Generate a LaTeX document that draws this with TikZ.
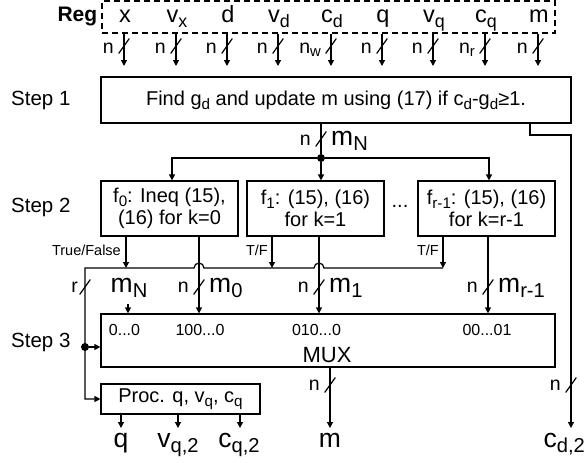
\documentclass[tikz,border=0pt]{standalone}
\usepackage{fontspec}
\setmainfont{Liberation Sans}
\usetikzlibrary{arrows.meta,positioning,calc}
\tikzset{
  wire/.style={line width=1.2pt, line cap=rect},
  arr/.style={line width=1.2pt, -{Triangle[length=6pt,width=6pt]}},
  box/.style={draw, line width=1.2pt, inner sep=0pt, align=center, font=\fontsize{20}{22.5}\selectfont},
  steplab/.style={anchor=west, inner sep=0pt, font=\fontsize{20.5}{22}\selectfont},
  reglab/.style={anchor=base, inner sep=0pt, font=\fontsize{23.5}{24}\selectfont},
  siglab/.style={anchor=base, inner sep=0pt, font=\fontsize{26.5}{27}\selectfont},
  wlab/.style={anchor=base east, inner sep=0pt, font=\fontsize{19.5}{20}\selectfont},
  tflab/.style={anchor=base east, inner sep=0pt, font=\fontsize{14.5}{15}\selectfont},
  code/.style={anchor=base, inner sep=0pt, font=\fontsize{16}{16}\selectfont},
  dot/.style={circle, fill, inner sep=0pt, minimum size=8pt},
}
% subscript as the figure sets it
\newcommand{\sbs}[1]{\raisebox{-0.2em}{\scalebox{0.76}{#1}}}
% bus-width mark on a wire
\newcommand{\wslash}[1]{\draw[wire] ($(#1)+(-5,7)$) -- ($(#1)+(5,-7)$);}

\begin{document}
\begin{tikzpicture}[x=1pt, y=-1pt]
\useasboundingbox (0,0) rectangle (587,463);

% register
\node[draw, dashed, dash pattern=on 6pt off 4pt, line width=1.2pt, inner sep=0pt,
      minimum width=453pt, minimum height=32pt] (reg) at (328.5,17) {};
\node[anchor=east, inner sep=4pt, font=\bfseries\fontsize{21}{21}\selectfont] (reglbl) at (reg.west) {Reg};
\foreach \i/\px/\s/\w in {1/124/x/n, 2/176/{v\sbs{x}}/n, 3/227/d/n, 4/278/{v\sbs{d}}/n,
    5/331/{c\sbs{d}}/{n\sbs{w}}, 6/382/q/n, 7/433/{v\sbs{q}}/n,
    8/485/{c\sbs{q}}/{n\sbs{r}}, 9/538/m/n}{
  \node[reglab] (l\i) at (\px+1,23) {\s};
  \coordinate (r\i) at (\px,66);
  \draw[arr] (r\i |- reg.south) -- (r\i);
  \wslash{\px,46}
  \node[wlab] at (\px-10,53) {\w};
}

% step 1
\node[steplab] (st1) at (11,100) {Step 1};
\node[box, minimum width=470pt, minimum height=46pt] (s1) at (336,100)
  {Find g\sbs{d} and update m using (17) if c\sbs{d}-g\sbs{d}≥1.};

\node[dot] (split) at (321,158) {};
\draw[wire] (split |- s1.south) -- (split);
\wslash{321,139}
\node[wlab] at (311,145) {n};
\node[siglab, anchor=base west] at (331,145) {m\sbs{N}};

% step 2
\node[steplab] (st2) at (11,207) {Step 2};
\node[box, minimum width=137pt, minimum height=55pt] (f0) at (169.5,208.5)
  {f\sbs{0}: Ineq (15),\\(16) for k=0};
\node[box, minimum width=137pt, minimum height=55pt] (f1) at (315.5,208.5)
  {f\sbs{1}: (15), (16)\\for k=1};
\node[box, minimum width=137pt, minimum height=55pt] (fr) at (486.5,208.5)
  {f\sbs{r-1}: (15), (16)\\for k=r-1};
\node[anchor=base, inner sep=0pt, font=\fontsize{20}{20}\selectfont] (dots) at (400,207) {...};

\coordinate (a0) at (172,158);
\coordinate (a2) at (489,158);
\draw[arr] (split) -- (a0) -- (a0 |- f0.north);
\draw[arr] (split) -- (split |- f1.north);
\draw[arr] (split) -- (a2) -- (a2 |- fr.north);

% true/false lines
\coordinate (t0) at (126,268);
\coordinate (t1) at (272,268);
\coordinate (t2) at (443,268);
\coordinate (bl) at (85,268);
\draw[arr] (t0 |- f0.south) -- (t0);
\draw[arr] (t1 |- f1.south) -- (t1);
\draw[arr] (t2 |- fr.south) -- (t2);
\node[tflab] at (121,255) {True/False};
\node[tflab] at (268,255) {T/F};
\node[tflab] at (439,255) {T/F};

% step 3
\node[steplab] (st3) at (11,342) {Step 3};
\node[draw, line width=1.2pt, inner sep=0pt, minimum width=454pt, minimum height=53pt] (mux) at (328,340.5) {};
\node[box, minimum width=159pt, minimum height=30pt] (proc) at (180.5,399)
  {Proc. q, v\sbs{q}, c\sbs{q}};
\node[dot] (jn) at (85,347) {};

\draw[arr] (t2) -- (324,268) arc (0:-180:5) -- (204,268) arc (0:-180:5)
  -- (bl) -- (bl |- proc.west) -- (proc.west);
\draw[arr] (jn) -- (jn -| mux.west);
\wslash{85,287}
\node[wlab] at (78,292) {r};

% data words into the mux
\coordinate (d0) at (199,0);
\coordinate (d1) at (319,0);
\coordinate (d2) at (488,0);
\draw[arr] (d0 |- f0.south) -- (d0 |- mux.north);
\draw[arr] (d1 |- f1.south) -- (d1 |- mux.north);
\draw[arr] (d2 |- fr.south) -- (d2 |- mux.north);
\foreach \px/\s in {199/0, 319/1, 488/r-1}{
  \wslash{\px,287}
  \node[wlab] at (\px-10,292) {n};
  \node[siglab, anchor=base west] at (\px+10,292) {m\sbs{\s}};
}
\node[siglab] (mn) at (129,292) {m\sbs{N}};
\coordinate (mnt) at (128,304);
\draw[arr] (mnt) -- (mnt |- mux.north);

\node[code] at (124.5,335) {0...0};
\node[code] at (200,335) {100...0};
\node[code] at (316.5,335) {010...0};
\node[code] at (487,335) {00...01};
\node[anchor=base, inner sep=0pt, font=\fontsize{22}{22}\selectfont] at (327,362) {MUX};

% outputs
\coordinate (o1) at (121,428);
\coordinate (o2) at (178,428);
\coordinate (o3) at (240,428);
\coordinate (mo) at (330,428);
\coordinate (ck) at (530,135);
\coordinate (cd) at (571,428);
\draw[arr] (o1 |- proc.south) -- (o1);
\draw[arr] (o2 |- proc.south) -- (o2);
\draw[arr] (o3 |- proc.south) -- (o3);
\draw[arr] (mo |- mux.south) -- (mo);
\draw[arr] (ck |- s1.south) -- (ck) -| (cd);
\wslash{330,385}
\node[wlab] at (320,390) {n};
\wslash{571,385}
\node[wlab] at (561,390) {n};

\node[siglab] (q) at (121,447) {q};
\node[siglab] (vq) at (178,447) {v\sbs{q,2}};
\node[siglab] (cq) at (239,447) {c\sbs{q,2}};
\node[siglab] (m) at (330,447) {m};
\node[siglab, anchor=base east] (cd2) at (585,447) {c\sbs{d,2}};
\end{tikzpicture}
\end{document}
